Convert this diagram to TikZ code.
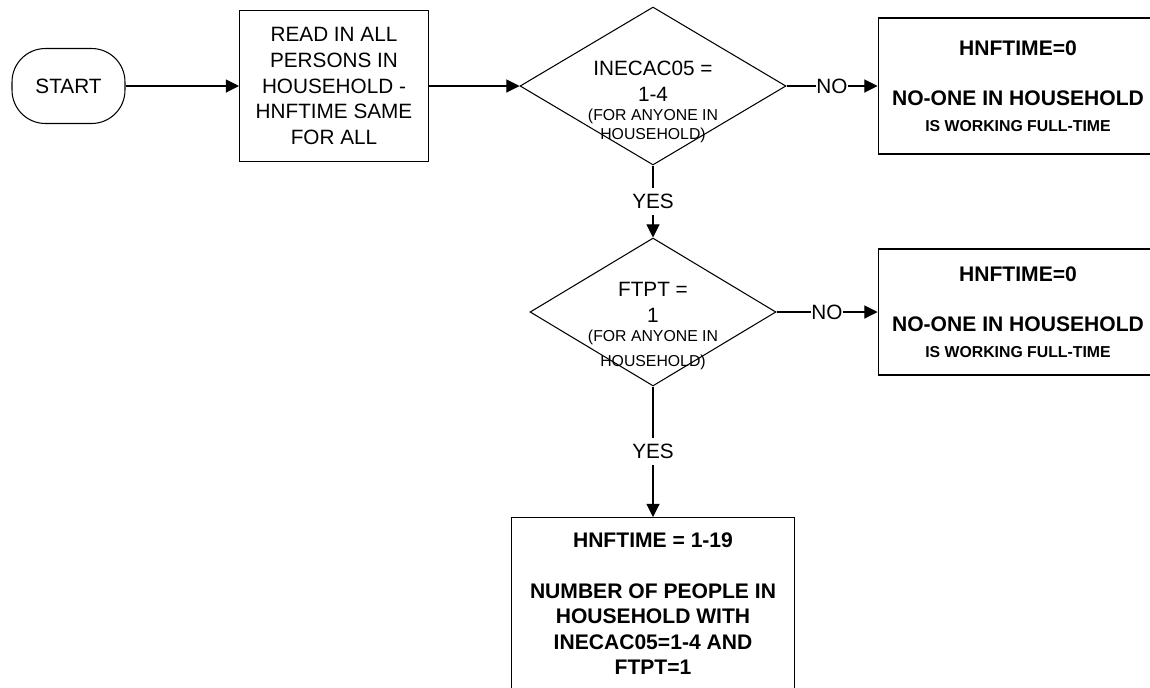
\documentclass[tikz,border=0pt]{standalone}
\usepackage{fontspec}
\setmainfont{Liberation Sans}
\usetikzlibrary{shapes.geometric,arrows.meta}

\newcommand{\dsmall}[1]{{\fontsize{9}{11}\selectfont #1}}
\newcommand{\rsmall}[1]{{\fontsize{9}{11}\selectfont #1}}

\begin{document}
\begin{tikzpicture}[x=0.02cm, y=-0.02cm,
    every node/.style={inner sep=0pt},
    shapebox/.style={draw, line width=0.6pt, align=center},
    terminal/.style={shapebox, rounded corners=19pt, minimum width=2.26cm, minimum height=1.5cm, font=\fontsize{11.8}{14.7}\selectfont},
    process/.style={shapebox, rectangle, font=\fontsize{11.8}{14.7}\selectfont},
    result/.style={shapebox, rectangle, font=\fontsize{12}{14.5}\selectfont\bfseries},
    decision/.style={shapebox, diamond},
    dtext/.style={anchor=north, align=center, font=\fontsize{11.8}{14.7}\selectfont},
    flow/.style={line width=0.6pt, -{Triangle[length=7.5pt,width=7.5pt]}},
    answer/.style={fill=white, font=\fontsize{11.8}{14.7}\selectfont, inner xsep=0pt, inner ysep=3.5pt}]

\useasboundingbox (0,0) rectangle (1150,687);
\clip (0,0) rectangle (1150,687);

% top row
\node[terminal] (start) at (68.5,86) {START};
\node[process, minimum width=3.78cm, minimum height=3.02cm] (read) at (334,86) {READ IN ALL\\PERSONS IN\\HOUSEHOLD -\\HNFTIME SAME\\FOR ALL};
\node[decision, minimum width=5.32cm, minimum height=3.16cm] (dA) at (653,86) {};
\node[dtext] (dAtext) at ([yshift=0.5cm]dA.center) {INECAC05 =\\1-4\\[-4.2pt]\dsmall{(FOR ANYONE IN}\\[-3.4pt]\dsmall{HOUSEHOLD)}};
\node[result, minimum width=5.6cm, minimum height=2.72cm] (noA) at (1018,86) {HNFTIME=0\\[14.4pt]NO-ONE IN HOUSEHOLD\\\rsmall{IS WORKING FULL-TIME}};

% second decision
\node[decision, minimum width=4.92cm, minimum height=2.96cm] (dB) at (653,312) {};
\node[dtext] (dBtext) at ([yshift=0.6cm]dB.center) {FTPT =\\1\\[-3.65pt]\dsmall{(FOR ANYONE IN}\\[-0.5pt]\dsmall{HOUSEHOLD)}};
\node[result, minimum width=5.6cm, minimum height=2.52cm] (noB) at (1018,312) {HNFTIME=0\\[14.4pt]NO-ONE IN HOUSEHOLD\\\rsmall{IS WORKING FULL-TIME}};

% result
\node[result, anchor=north, minimum width=5.66cm, minimum height=3.44cm] (count) at (653,517) {HNFTIME = 1-19\\[14.4pt]NUMBER OF PEOPLE IN\\HOUSEHOLD WITH\\INECAC05=1-4 AND\\FTPT=1};

% connectors
\draw[flow] (start) -- (read);
\draw[flow] (read) -- (dA);
\draw[flow] (dA) -- node[answer] (noAlbl) {NO} (noA);
\draw[flow] (dA) -- node[answer] (yesAlbl) {YES} (dB);
\draw[flow] (dB) -- node[answer] (noBlbl) {NO} (noB);
\draw[flow] (dB) -- node[answer] (yesBlbl) {YES} (count);

\end{tikzpicture}
\end{document}
